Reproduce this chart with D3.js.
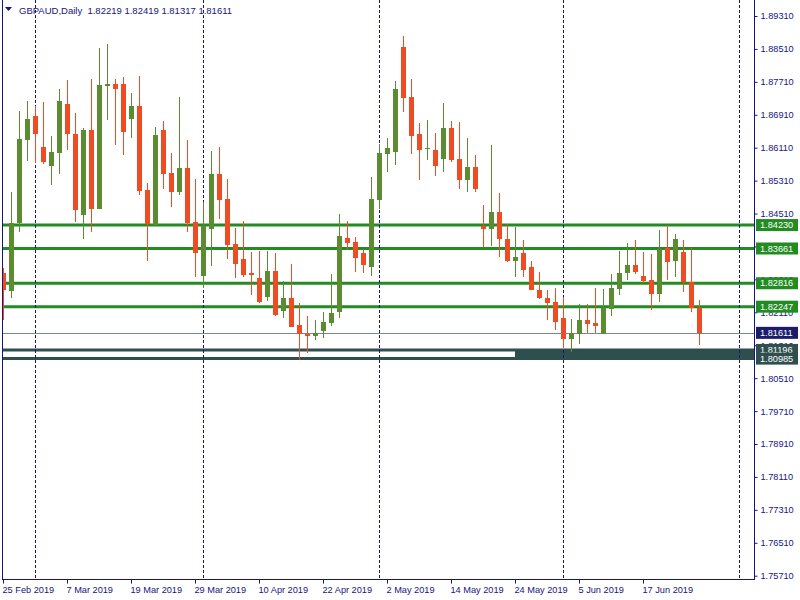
<!DOCTYPE html>
<html><head><meta charset="utf-8">
<script src="https://cdn.jsdelivr.net/npm/d3@7"></script>
<style>html,body{margin:0;padding:0;background:#fff;}svg{display:block;font-family:"Liberation Sans",Arial,sans-serif;}</style>
</head><body>
<script>
// ---- data (GBPAUD daily, 25 Feb 2019 onward, one bar per trading day) ----
const opens  = [1.83062,1.82632,1.84291,1.86299,1.86882,1.86129,1.85668,1.85983,1.87173,1.86445,
1.84478,1.86542,1.84623,1.87610,1.87659,1.87659,1.86809,1.87125,1.85085,1.84235,
1.86542,1.85498,1.85036,1.85619,1.84308,1.82996,1.84138,1.85473,1.84866,1.83773,
1.83409,1.83069,1.82947,1.82486,1.83117,1.82146,1.82462,1.81806,1.81595,1.81539,
1.81660,1.81855,1.82122,1.83919,1.83822,1.83555,1.83215,1.84842,1.85959,1.86008,
1.88558,1.87343,1.86445,1.86080,1.86056,1.85838,1.86590,1.85838,1.85328,1.85643,
1.84210,1.84138,1.84550,1.83895,1.83360,1.83555,1.83215,1.82656,1.82462,1.82365,
1.81977,1.81466,1.81587,1.81927,1.81855,1.81587,1.82195,1.82680,1.83069,1.83263,
1.82996,1.82899,1.82559,1.83676,1.83360,1.83579,1.82850,1.82219];
const highs  = [1.83183,1.85029,1.87003,1.87246,1.87125,1.87222,1.86396,1.87538,1.87756,1.86955,
1.86590,1.87780,1.88533,1.88630,1.87780,1.87829,1.87440,1.87853,1.85255,1.86615,
1.86760,1.85983,1.87343,1.86299,1.85352,1.84801,1.86032,1.86129,1.85352,1.84162,
1.84332,1.83579,1.83603,1.83603,1.83555,1.82875,1.83287,1.82340,1.82025,1.81927,
1.82122,1.83045,1.84502,1.84332,1.83943,1.83652,1.85400,1.86202,1.86348,1.87732,
1.88825,1.87780,1.86712,1.86785,1.86469,1.87198,1.86760,1.86736,1.86348,1.85935,
1.84720,1.86178,1.85012,1.84259,1.84186,1.83870,1.83360,1.83093,1.82656,1.82705,
1.82486,1.81952,1.82316,1.82316,1.82705,1.82680,1.83045,1.83603,1.83798,1.83870,
1.83579,1.83530,1.84113,1.84235,1.84016,1.83870,1.83676,1.82419];
const lows   = [1.81927,1.82469,1.84072,1.85796,1.85748,1.85716,1.85206,1.85473,1.86056,1.84308,
1.83895,1.84065,1.84623,1.86785,1.86178,1.85935,1.86348,1.84963,1.83360,1.84235,
1.85109,1.84672,1.84963,1.84065,1.82972,1.82712,1.83239,1.84380,1.83409,1.82947,
1.82972,1.82535,1.82340,1.82389,1.82025,1.81976,1.81757,1.80956,1.81126,1.81442,
1.81490,1.81782,1.81976,1.83627,1.83093,1.83069,1.82996,1.84623,1.85522,1.85692,
1.86979,1.85959,1.85328,1.85813,1.85425,1.85522,1.85765,1.85109,1.85036,1.85036,
1.83700,1.83725,1.83457,1.83336,1.82972,1.82972,1.82656,1.82437,1.81927,1.81685,
1.81247,1.81150,1.81345,1.81612,1.81612,1.81587,1.82025,1.82535,1.82899,1.83045,
1.82826,1.82170,1.82365,1.82899,1.82972,1.82607,1.82122,1.81317];
const closes = [1.82656,1.84276,1.86323,1.86809,1.86445,1.85765,1.86008,1.87246,1.86445,1.84599,
1.86542,1.84623,1.87635,1.87659,1.87538,1.86493,1.87125,1.85060,1.84259,1.86420,
1.85473,1.85036,1.85619,1.84283,1.83555,1.84210,1.85473,1.84842,1.83749,1.83287,
1.83020,1.83020,1.82365,1.83117,1.82049,1.82462,1.81757,1.81587,1.81539,1.81612,
1.81879,1.82097,1.83968,1.83798,1.83433,1.83263,1.84866,1.85983,1.86105,1.87538,
1.87319,1.86396,1.86056,1.86105,1.85668,1.86590,1.85813,1.85328,1.85643,1.85109,
1.84138,1.84550,1.83895,1.83360,1.83457,1.83142,1.82656,1.82462,1.82340,1.81879,
1.81466,1.81612,1.81927,1.81830,1.81782,1.82219,1.82705,1.83069,1.83263,1.83093,
1.82875,1.82559,1.83652,1.83336,1.83895,1.82850,1.82219,1.81611];

const dateTickIdx    = [0, 8, 16, 24, 32, 40, 48, 56, 64, 72, 80];
const dateTickLabels = ["25 Feb 2019","7 Mar 2019","19 Mar 2019","29 Mar 2019","10 Apr 2019",
  "22 Apr 2019","2 May 2019","14 May 2019","24 May 2019","5 Jun 2019","17 Jun 2019"];
const monthSeparatorIdx = [4, 25, 47, 70, 92];
const priceTicks = [1.89310,1.88510,1.87710,1.86910,1.86110,1.85310,1.84510,1.83710,1.82910,
  1.82110,1.81310,1.80510,1.79710,1.78910,1.78110,1.77310,1.76510,1.75710];
const greenLevels = [1.84230, 1.83661, 1.82816, 1.82247];
const slateLevels = [1.81196, 1.80985];
const zoneStartIdx = 64;
const bidPrice = 1.81611;
const titleText = "GBPAUD,Daily  1.82219 1.82419 1.81317 1.81611";

// ---- drawing ----
const W = 800, H = 600;
const pL = 2, pR = 754, pT = 0, pB = 579;
const bull = "#5b8c32", bear = "#f04c24", lvlGreen = "#228b22", slate = "#2f4f4f",
      fg = "#15157e", bidCol = "#778899", bidBox = "#1c1c6c";
const FONT = "Liberation Sans, Arial, sans-serif", FS = "9.2px";

const svg = d3.select("body").append("svg").attr("width", W).attr("height", H);
const x = d3.scaleLinear().domain([0, 1]).range([3.5, 11.5]);
const y = d3.scaleLinear().domain([1.75710, 1.89310]).range([575.7, 16]);

svg.append("defs").append("clipPath").attr("id", "plot")
  .append("rect").attr("x", pL).attr("y", pT).attr("width", pR - pL).attr("height", pB - pT);

const plot = svg.append("g").attr("clip-path", "url(#plot)");

// slate zone rectangle + lines
plot.append("rect")
  .attr("x", x(zoneStartIdx) - 0.5).attr("y", y(slateLevels[0]))
  .attr("width", pR - x(zoneStartIdx) + 1).attr("height", y(slateLevels[1]) - y(slateLevels[0]))
  .attr("fill", slate);
plot.selectAll("line.slate").data(slateLevels).join("line")
  .attr("x1", pL).attr("x2", pR).attr("y1", d => y(d)).attr("y2", d => y(d))
  .attr("stroke", slate).attr("stroke-width", 3);

// green levels
plot.selectAll("line.lvl").data(greenLevels).join("line")
  .attr("x1", pL).attr("x2", pR).attr("y1", d => y(d)).attr("y2", d => y(d))
  .attr("stroke", lvlGreen).attr("stroke-width", 3);

// month separators
plot.selectAll("line.sep").data(monthSeparatorIdx).join("line")
  .attr("x1", d => x(d)).attr("x2", d => x(d))
  .attr("y1", pT).attr("y2", pB)
  .attr("stroke", fg).attr("stroke-width", 1).attr("stroke-dasharray", "3,2");

// bid line
plot.append("line").attr("x1", pL).attr("x2", pR)
  .attr("y1", Math.round(y(bidPrice)) + 0.5).attr("y2", Math.round(y(bidPrice)) + 0.5)
  .attr("stroke", bidCol).attr("stroke-width", 1);

// candles
const idx = d3.range(opens.length);
const cg = plot.append("g").attr("shape-rendering", "crispEdges");
cg.selectAll("line.wick").data(idx).join("line")
  .attr("x1", i => x(i)).attr("x2", i => x(i))
  .attr("y1", i => y(highs[i])).attr("y2", i => y(lows[i]))
  .attr("stroke", i => closes[i] >= opens[i] ? bull : bear).attr("stroke-width", 1);
cg.selectAll("rect.body").data(idx).join("rect")
  .attr("x", i => x(i) - 2.5).attr("width", 5)
  .attr("y", i => y(Math.max(opens[i], closes[i])))
  .attr("height", i => Math.max(1.5, Math.abs(y(opens[i]) - y(closes[i]))))
  .attr("fill", i => closes[i] >= opens[i] ? bull : bear);

// frame
svg.append("line").attr("x1", pL + 0.5).attr("x2", pL + 0.5).attr("y1", pT).attr("y2", pB)
  .attr("stroke", fg).attr("stroke-width", 1);
svg.append("line").attr("x1", pL).attr("x2", pR + 1).attr("y1", pB + 0.5).attr("y2", pB + 0.5)
  .attr("stroke", fg).attr("stroke-width", 1);
svg.append("line").attr("x1", pR + 0.5).attr("x2", pR + 0.5).attr("y1", pT).attr("y2", pB + 1)
  .attr("stroke", fg).attr("stroke-width", 1);

// right axis
const boxed = greenLevels.concat(slateLevels, [bidPrice]);
const yAxis = d3.axisRight(y).tickValues(priceTicks).tickFormat(d3.format(".5f"))
  .tickSize(3).tickPadding(3);
const ya = svg.append("g").attr("transform", `translate(${pR + 0.5},0)`).call(yAxis);
ya.select(".domain").remove();
ya.selectAll("line").attr("stroke", fg);
ya.selectAll("text").attr("fill", fg).attr("font-size", FS).attr("font-family", FONT);
// a tick label entirely hidden under a level label box is not shown (as in the terminal)
ya.selectAll(".tick").filter(t => boxed.some(b => Math.abs(y(b) - y(t)) < 3)).select("text").remove();

// bottom axis
const xAxis = d3.axisBottom(x).tickValues(dateTickIdx).tickFormat((d, k) => dateTickLabels[k])
  .tickSize(4).tickPadding(3);
const xa = svg.append("g").attr("transform", `translate(-0.5,${pB + 0.5})`).call(xAxis);
xa.select(".domain").remove();
xa.selectAll("line").attr("stroke", fg);
xa.selectAll("text").attr("fill", fg).attr("font-size", FS).attr("text-anchor", "start")
  .attr("dx", "-1px").attr("font-family", FONT);

// price labels
function priceLabel(v, bg) {
  const g = svg.append("g");
  g.append("rect").attr("x", pR + 2).attr("y", y(v) - 6).attr("width", 42).attr("height", 12).attr("fill", bg);
  g.append("text").attr("x", pR + 6).attr("y", y(v)).attr("dy", "0.35em")
    .attr("fill", "#fff").attr("font-size", FS).attr("font-family", FONT).text(d3.format(".5f")(v));
}
greenLevels.forEach(v => priceLabel(v, lvlGreen));
priceLabel(bidPrice, bidBox);
slateLevels.forEach(v => priceLabel(v, slate));

// title
svg.append("path").attr("d", "M5,7 L12,7 L8.5,11 Z").attr("fill", fg);
svg.append("text").attr("x", 19).attr("y", 14).attr("fill", fg).attr("font-size", "9.5px")
  .attr("font-family", FONT).attr("xml:space", "preserve").style("white-space", "pre").text(titleText);
</script>
</body></html>
